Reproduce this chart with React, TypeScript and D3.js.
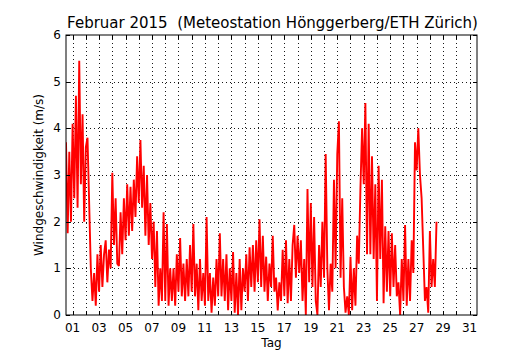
import React from 'react';
import * as d3 from 'd3';

const title = 'Februar 2015  (Meteostation Hönggerberg/ETH Zürich)';
const xLabel = 'Tag';
const yLabel = 'Windgeschwindigkeit (m/s)';
const dayLabels = ['01','03','05','07','09','11','13','15','17','19','21','23','25','27','29','31'];
const yTicks = [0, 1, 2, 3, 4, 5, 6];
const samplesPerDay = 8;

// Wind speed (m/s), 3-hourly readings from 1 Feb 00:00
const week1 = [
  3.7, 1.75, 3.5, 2.0, 4.1, 2.5, 4.7, 2.3,
  5.45, 2.8, 4.3, 2.0, 3.6, 3.8, 2.4, 1.0,
  0.3, 0.9, 0.2, 1.3, 0.5, 1.5, 0.6, 1.3,
  1.6, 0.7, 1.4, 1.0, 3.05, 1.5, 2.5, 1.1,
  1.05, 2.2, 1.3, 2.5, 1.6, 2.8, 1.7, 2.75,
  1.8, 2.9, 2.1, 3.4, 2.4, 3.75, 2.3, 3.2,
  1.7, 3.0, 1.5, 2.4, 1.2, 2.0, 0.6, 1.8,
];
const week2 = [
  0.2, 1.0, 0.3, 2.2, 0.3, 1.95, 0.2, 1.0,
  0.3, 1.0, 0.2, 1.3, 0.5, 1.65, 0.4, 1.1,
  0.3, 1.2, 0.4, 1.5, 0.5, 1.95, 0.4, 1.1,
  0.1, 1.2, 0.3, 0.9, 0.2, 2.1, 0.3, 0.9,
  0.05, 0.8, 0.2, 1.2, 0.4, 1.75, 0.4, 1.2,
  0.3, 1.3, 0.1, 1.0, 0.3, 1.35, 0.05, 0.9,
  0.0, 1.2, 0.1, 1.0, 0.5, 1.3, 0.3, 1.45,
];
const week3 = [
  0.6, 1.5, 0.5, 1.6, 0.7, 2.05, 0.6, 1.7,
  0.5, 1.25, 0.3, 1.1, 0.6, 1.7, 0.5, 0.8,
  0.1, 0.7, 0.3, 1.4, 0.4, 1.6, 0.25, 1.2,
  0.3, 1.5, 1.93, 0.8, 1.7, 0.9, 1.6, 0.3,
  1.2, 0.0, 2.7, 0.7, 2.4, 0.6, 2.1, 0.3,
  0.0, 1.5, 0.6, 2.0, 0.8, 3.45, 1.0, 0.1,
  1.1, 0.5, 2.9, 1.0, 3.45, 4.15, 0.8, 2.5,
];
const week4 = [
  0.6, 0.05, 0.4, 0.0, 1.25, 0.1, 1.0, 0.2,
  1.7, 1.1, 2.7, 4.0, 2.8, 4.54, 1.3, 4.1,
  1.3, 3.4, 1.2, 2.8, 0.3, 3.2, 1.2, 2.9,
  0.25, 1.9, 0.5, 1.8, 0.4, 1.75, 0.6, 1.5,
  0.4, 0.7, 0.0, 1.2, 0.3, 1.93, 0.2, 1.2,
  0.3, 1.6, 0.9, 3.7, 3.1, 4.0, 3.0, 2.5,
  1.4, 0.3, 0.6, 0.05, 1.8, 0.6, 1.2, 0.6,
  2.0,
];
const windSpeed = [...week1, ...week2, ...week3, ...week4];

const W = 530, H = 350;
const M = { left: 66, right: 477, top: 35, bottom: 315 };
const FONT = 'DejaVu Sans, sans-serif';

export default function App() {
  const x = d3.scaleLinear().domain([0, 31.06]).range([M.left, M.right]);
  const y = d3.scaleLinear().domain([0, 6]).range([M.bottom, M.top]);
  const allDays = d3.range(1, 32);
  const dayPos = (d: number) => x(d - 0.5);
  const line = d3.line<number>()
    .x((_, i) => x(i / samplesPerDay))
    .y((v) => y(v));

  return (
    <svg width={W} height={H} style={{ position: 'absolute', left: 0, top: 0, background: '#fff' }} fontFamily={FONT}>
      <rect x={0} y={0} width={W} height={H} fill="#fff" />
      <defs>
        <clipPath id="plot">
          <rect x={M.left} y={M.top} width={M.right - M.left} height={M.bottom - M.top} />
        </clipPath>
      </defs>
      {/* grid */}
      <g stroke="#000" strokeWidth={1} strokeDasharray="1,3" opacity={0.9}>
        {allDays.map((d) => (
          <line key={'vx' + d} x1={Math.round(dayPos(d)) + 0.5} x2={Math.round(dayPos(d)) + 0.5} y1={M.top} y2={M.bottom} />
        ))}
        {yTicks.slice(1, -1).map((v) => (
          <line key={'hy' + v} x1={M.left} x2={M.right} y1={Math.round(y(v)) + 0.5} y2={Math.round(y(v)) + 0.5} />
        ))}
      </g>
      {/* data */}
      <path d={line(windSpeed) || ''} fill="none" stroke="#ff0000" strokeWidth={1.9} strokeLinejoin="miter" strokeMiterlimit={3} clipPath="url(#plot)" />
      {/* ticks */}
      <g stroke="#000" strokeWidth={1}>
        {allDays.map((d) => {
          const px = Math.round(dayPos(d)) + 0.5;
          return (
            <g key={'t' + d}>
              <line x1={px} x2={px} y1={M.bottom} y2={M.bottom - 4} />
              <line x1={px} x2={px} y1={M.top} y2={M.top + 4} />
            </g>
          );
        })}
        {yTicks.map((v) => {
          const py = Math.round(y(v)) + 0.5;
          return (
            <g key={'yt' + v}>
              <line x1={M.left} x2={M.left + 4} y1={py} y2={py} />
              <line x1={M.right} x2={M.right - 4} y1={py} y2={py} />
            </g>
          );
        })}
      </g>
      {/* frame */}
      <rect x={M.left} y={M.top} width={M.right - M.left} height={M.bottom - M.top} fill="none" stroke="#000" strokeWidth={1} />
      {/* tick labels */}
      <g fontSize={12} fill="#000">
        {dayLabels.map((lab) => (
          <text key={'xl' + lab} x={dayPos(+lab)} y={M.bottom + 17} textAnchor="middle">{lab}</text>
        ))}
        {yTicks.map((v) => (
          <text key={'yl' + v} x={M.left - 5} y={y(v) + 4} textAnchor="end">{v}</text>
        ))}
      </g>
      <text x={(M.left + M.right) / 2} y={M.bottom + 32} textAnchor="middle" fontSize={12}>{xLabel}</text>
      <text transform={`translate(${M.left - 23},${(M.top + M.bottom) / 2}) rotate(-90)`} textAnchor="middle" fontSize={12}>{yLabel}</text>
      <text x={(M.left + M.right) / 2 + 1} y={M.top - 7} textAnchor="middle" fontSize={15} style={{ whiteSpace: 'pre' }}>{title}</text>
    </svg>
  );
}
